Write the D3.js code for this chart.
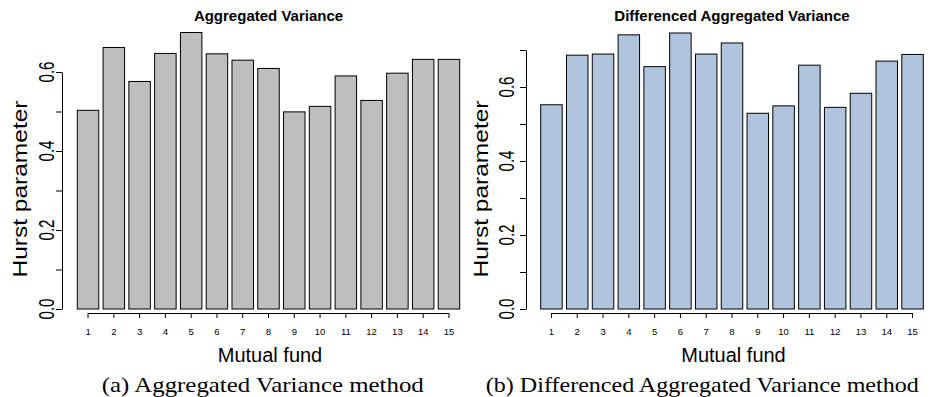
<!DOCTYPE html>
<html>
<head>
<meta charset="utf-8">
<script src="https://cdn.jsdelivr.net/npm/d3@7"></script>
<style>
  html, body { margin: 0; padding: 0; background: #ffffff; }
  svg { display: block; }
  text { font-family: "Liberation Sans", Arial, Helvetica, sans-serif; fill: #000; }
  .cap { font-family: "Liberation Serif", "Times New Roman", serif; }
</style>
</head>
<body>
<svg id="chart" width="934" height="397"></svg>
<script>
// ---- data ----
const funds = ["1","2","3","4","5","6","7","8","9","10","11","12","13","14","15"];
const aggVariance = [0.503, 0.662, 0.576, 0.647, 0.700, 0.646, 0.630, 0.609, 0.499, 0.513, 0.590, 0.528, 0.597, 0.632, 0.632];
const diffAggVariance = [0.552, 0.686, 0.689, 0.741, 0.655, 0.746, 0.689, 0.719, 0.529, 0.549, 0.659, 0.545, 0.583, 0.670, 0.688];
const yTicksA = [0, 0.1, 0.2, 0.3, 0.4, 0.5, 0.6];
const yTicksB = [0, 0.1, 0.2, 0.3, 0.4, 0.5, 0.6, 0.7];
const yLabelsA = ["0.0", "0.2", "0.4", "0.6"];
const yLabelsB = ["0.0", "0.2", "0.4", "0.6"];
const titles = ["Aggregated Variance", "Differenced Aggregated Variance"];
const captions = ["(a) Aggregated Variance method", "(b) Differenced Aggregated Variance method"];
const xTitle = "Mutual fund";
const yTitle = "Hurst parameter";

const svg = d3.select("#chart");

function panel(opts) {
  const g = svg.append("g");
  const x = d3.scaleBand().domain(funds).range([opts.x0, opts.x1])
    .paddingInner(1/6).paddingOuter(0);
  const y = d3.scaleLinear().domain([0, opts.ymax]).range([309, 309 - opts.pxPerUnit * opts.ymax]);

  // bars
  g.selectAll("rect.bar").data(opts.values).enter().append("rect")
    .attr("class", "bar")
    .attr("x", (d, i) => x(funds[i]))
    .attr("y", d => y(d))
    .attr("width", x.bandwidth())
    .attr("height", d => y(0) - y(d))
    .attr("fill", opts.fill)
    .attr("stroke", "#000")
    .attr("stroke-width", 1);

  // y axis
  const yAxis = d3.axisLeft(y).tickValues(opts.yTicks).tickSize(6).tickSizeOuter(0).tickFormat("");
  const ya = g.append("g").attr("transform", `translate(${opts.yAxisX},0)`).call(yAxis);
  ya.selectAll("path, line").attr("stroke", "#000").attr("stroke-width", 1);

  // y tick labels (rotated, as in R)
  g.selectAll("text.ylab").data(opts.yLabels).enter().append("text")
    .attr("class", "ylab")
    .attr("transform", d => `translate(${opts.yLabX},${y(+d)}) rotate(-90)`)
    .attr("text-anchor", "middle")
    .attr("font-size", 22)
    .attr("textLength", 21)
    .attr("lengthAdjust", "spacingAndGlyphs")
    .text(d => d);

  // x axis: line from first to last tick, ticks down
  const xAxis = d3.axisBottom(x).tickSize(5).tickSizeOuter(0).tickPadding(10);
  const xa = g.append("g").attr("transform", "translate(0,313)").call(xAxis);
  xa.select("path.domain").remove();
  xa.selectAll("line").attr("stroke", "#000");
  xa.selectAll("text").attr("font-size", 9.5).attr("fill", "#000")
    .attr("font-family", "Liberation Sans, Arial, sans-serif");
  const c0 = x(funds[0]) + x.bandwidth() / 2;
  const c1 = x(funds[funds.length - 1]) + x.bandwidth() / 2;
  xa.append("line").attr("x1", c0).attr("x2", c1).attr("y1", 0.5).attr("y2", 0.5)
    .attr("stroke", "#000");

  const cx = (opts.x0 + opts.x1) / 2;
  // title
  g.append("text").attr("x", cx).attr("y", 20.5).attr("text-anchor", "middle")
    .attr("font-size", 15).attr("font-weight", "bold").text(opts.title);
  // x title
  g.append("text").attr("x", cx + 1.5).attr("y", 361.5).attr("text-anchor", "middle")
    .attr("font-size", 20).text(xTitle);
  // y title
  g.append("text")
    .attr("transform", `translate(${opts.yTitleX},189) rotate(-90)`)
    .attr("text-anchor", "middle").attr("font-size", 21)
    .attr("textLength", 177).attr("lengthAdjust", "spacingAndGlyphs")
    .text(yTitle);
  // caption
  g.append("text").attr("class", "cap")
    .attr("x", opts.capX).attr("y", 391.5).attr("text-anchor", "middle")
    .attr("font-size", 22)
    .attr("textLength", opts.capW).attr("lengthAdjust", "spacingAndGlyphs")
    .text(opts.caption);
}

panel({
  values: aggVariance, fill: "#BEBEBE", x0: 77.3, x1: 459.7,
  ymax: 0.6, pxPerUnit: 395, yTicks: yTicksA, yLabels: yLabelsA,
  yAxisX: 62, yLabX: 53.5, yTitleX: 27,
  title: titles[0], caption: captions[0], capX: 262.8, capW: 322
});
panel({
  values: diffAggVariance, fill: "#B0C4DE", x0: 540.7, x1: 923.3,
  ymax: 0.7, pxPerUnit: 370, yTicks: yTicksB, yLabels: yLabelsB,
  yAxisX: 526, yLabX: 513.5, yTitleX: 488,
  title: titles[1], caption: captions[1], capX: 702.3, capW: 433
});
</script>
</body>
</html>
